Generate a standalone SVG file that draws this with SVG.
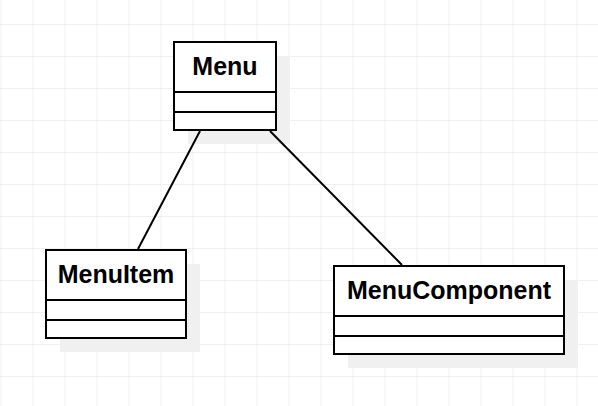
<svg xmlns="http://www.w3.org/2000/svg" width="598" height="406" viewBox="0 0 598 406">
<defs>
<pattern id="grid" x="0.5" y="24" width="32" height="32" patternUnits="userSpaceOnUse">
<path d="M0 0 H32 M0 0 V32" fill="none" stroke="#ebebeb" stroke-width="1.5"/>
</pattern>
</defs>
<style>
.box{fill:#fff;stroke:#000;stroke-width:2}
.shadow{fill:#f0f0f0}
.div{stroke:#000;stroke-width:2}
.label{font-family:"Liberation Sans",Arial,sans-serif;font-weight:bold;font-size:25px;fill:#000;text-anchor:middle}
.conn{stroke:#000;stroke-width:2;fill:none}
</style>
<rect width="598" height="406" fill="#fff"/>
<rect width="598" height="406" fill="url(#grid)"/>
<g id="Menu">
<rect class="shadow" x="188" y="56" width="102" height="88"/>
<rect class="box" x="174" y="42" width="102" height="88"/>
<line class="div" x1="174" y1="92" x2="276" y2="92"/>
<line class="div" x1="174" y1="112" x2="276" y2="112"/>
<text class="label" x="225" y="75">Menu</text>
</g>
<g id="MenuItem">
<rect class="shadow" x="60" y="264" width="140" height="88"/>
<rect class="box" x="46" y="250" width="140" height="88"/>
<line class="div" x1="46" y1="300" x2="186" y2="300"/>
<line class="div" x1="46" y1="320" x2="186" y2="320"/>
<text class="label" x="116" y="283">MenuItem</text>
</g>
<g id="MenuComponent">
<rect class="shadow" x="348" y="280" width="230" height="88"/>
<rect class="box" x="334" y="266" width="230" height="88"/>
<line class="div" x1="334" y1="316" x2="564" y2="316"/>
<line class="div" x1="334" y1="336" x2="564" y2="336"/>
<text class="label" x="449" y="299">MenuComponent</text>
</g>
<g id="connectors">
<line class="conn" x1="200" y1="131" x2="138" y2="249"/>
<line class="conn" x1="270" y1="131" x2="402" y2="265"/>
</g>
</svg>
